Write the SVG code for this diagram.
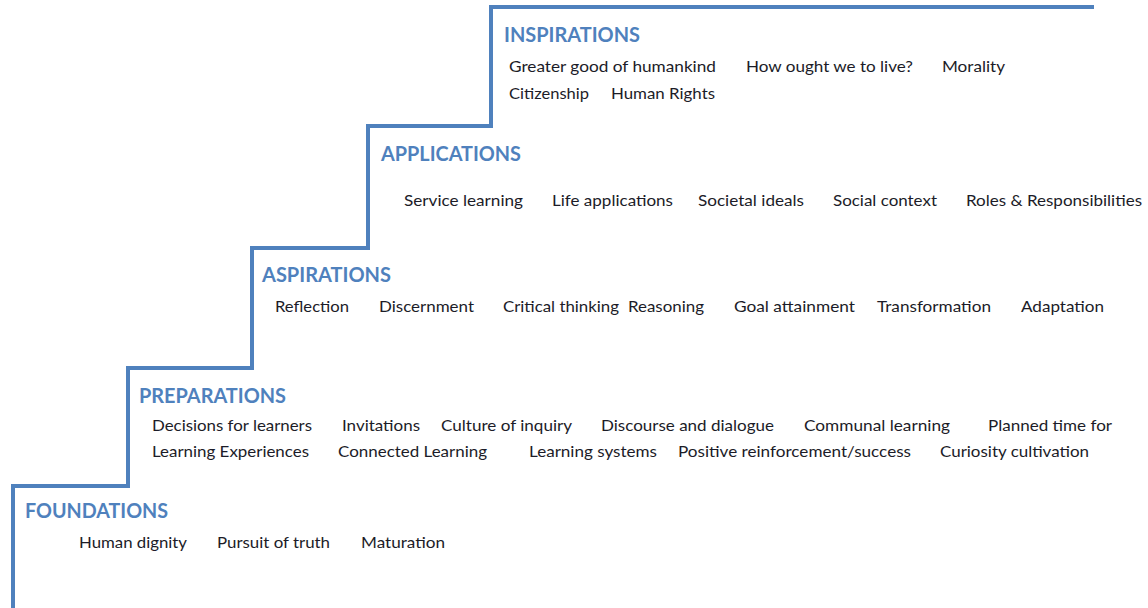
<svg xmlns="http://www.w3.org/2000/svg" width="1148" height="608" viewBox="0 0 1148 608">
<style>
.h{font-family:Lato,"Open Sans","Liberation Sans",sans-serif;font-weight:bold;font-size:20px;fill:#4F81BD}
.t{font-family:Lato,"Open Sans","Liberation Sans",sans-serif;font-size:15px;fill:#1c1c28}
.stair{fill:none;stroke:#4F81BD;stroke-width:4;stroke-linejoin:miter}
</style>
<rect width="1148" height="608" fill="#ffffff"/>
<g id="connectors">
<path class="stair" d="M13,608 V486 H128 V368 H252 V248 H368 V126 H491 V7 H1094"/>
</g>
<g id="inspirations">
<text class="h" x="504" y="42" textLength="136" lengthAdjust="spacingAndGlyphs">INSPIRATIONS</text>
<text class="t" x="509" y="72" textLength="207" lengthAdjust="spacingAndGlyphs">Greater good of humankind</text>
<text class="t" x="746" y="72" textLength="167" lengthAdjust="spacingAndGlyphs">How ought we to live?</text>
<text class="t" x="942" y="72" textLength="63" lengthAdjust="spacingAndGlyphs">Morality</text>
<text class="t" x="509" y="99" textLength="80" lengthAdjust="spacingAndGlyphs">Citizenship</text>
<text class="t" x="611" y="99" textLength="104" lengthAdjust="spacingAndGlyphs">Human Rights</text>
</g>
<g id="applications">
<text class="h" x="381" y="161" textLength="140" lengthAdjust="spacingAndGlyphs">APPLICATIONS</text>
<text class="t" x="404" y="206" textLength="119" lengthAdjust="spacingAndGlyphs">Service learning</text>
<text class="t" x="552" y="206" textLength="121" lengthAdjust="spacingAndGlyphs">Life applications</text>
<text class="t" x="698" y="206" textLength="106" lengthAdjust="spacingAndGlyphs">Societal ideals</text>
<text class="t" x="833" y="206" textLength="104" lengthAdjust="spacingAndGlyphs">Social context</text>
<text class="t" x="966" y="206" textLength="176" lengthAdjust="spacingAndGlyphs">Roles &amp; Responsibilities</text>
</g>
<g id="aspirations">
<text class="h" x="262" y="282" textLength="129" lengthAdjust="spacingAndGlyphs">ASPIRATIONS</text>
<text class="t" x="275" y="312" textLength="74" lengthAdjust="spacingAndGlyphs">Reflection</text>
<text class="t" x="379" y="312" textLength="95" lengthAdjust="spacingAndGlyphs">Discernment</text>
<text class="t" x="503" y="312" textLength="116" lengthAdjust="spacingAndGlyphs">Critical thinking</text>
<text class="t" x="628" y="312" textLength="76" lengthAdjust="spacingAndGlyphs">Reasoning</text>
<text class="t" x="734" y="312" textLength="121" lengthAdjust="spacingAndGlyphs">Goal attainment</text>
<text class="t" x="877" y="312" textLength="114" lengthAdjust="spacingAndGlyphs">Transformation</text>
<text class="t" x="1021" y="312" textLength="83" lengthAdjust="spacingAndGlyphs">Adaptation</text>
</g>
<g id="preparations">
<text class="h" x="139" y="403" textLength="147" lengthAdjust="spacingAndGlyphs">PREPARATIONS</text>
<text class="t" x="152" y="431" textLength="160" lengthAdjust="spacingAndGlyphs">Decisions for learners</text>
<text class="t" x="342" y="431" textLength="78" lengthAdjust="spacingAndGlyphs">Invitations</text>
<text class="t" x="441" y="431" textLength="131" lengthAdjust="spacingAndGlyphs">Culture of inquiry</text>
<text class="t" x="601" y="431" textLength="173" lengthAdjust="spacingAndGlyphs">Discourse and dialogue</text>
<text class="t" x="804" y="431" textLength="146" lengthAdjust="spacingAndGlyphs">Communal learning</text>
<text class="t" x="988" y="431" textLength="124" lengthAdjust="spacingAndGlyphs">Planned time for</text>
<text class="t" x="152" y="457" textLength="157" lengthAdjust="spacingAndGlyphs">Learning Experiences</text>
<text class="t" x="338" y="457" textLength="149" lengthAdjust="spacingAndGlyphs">Connected Learning</text>
<text class="t" x="529" y="457" textLength="128" lengthAdjust="spacingAndGlyphs">Learning systems</text>
<text class="t" x="678" y="457" textLength="233" lengthAdjust="spacingAndGlyphs">Positive reinforcement/success</text>
<text class="t" x="940" y="457" textLength="149" lengthAdjust="spacingAndGlyphs">Curiosity cultivation</text>
</g>
<g id="foundations">
<text class="h" x="25" y="518" textLength="143" lengthAdjust="spacingAndGlyphs">FOUNDATIONS</text>
<text class="t" x="79" y="548" textLength="108" lengthAdjust="spacingAndGlyphs">Human dignity</text>
<text class="t" x="217" y="548" textLength="113" lengthAdjust="spacingAndGlyphs">Pursuit of truth</text>
<text class="t" x="361" y="548" textLength="84" lengthAdjust="spacingAndGlyphs">Maturation</text>
</g>
</svg>
